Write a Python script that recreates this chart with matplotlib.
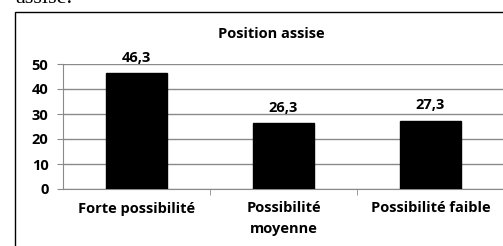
import matplotlib
matplotlib.use("Agg")
import matplotlib.pyplot as plt
from matplotlib.patches import Rectangle

categories = ["Forte possibilité", "Possibilité\nmoyenne", "Possibilité faible"]
values = [46.3, 26.3, 27.3]
value_labels = ["46,3", "26,3", "27,3"]
y_ticks = [0, 10, 20, 30, 40, 50]

plt.rcParams["font.family"] = ["Open Sans", "DejaVu Sans"]
GRID = "#8a8a8a"
FS = 10.5

fig = plt.figure(figsize=(5.03, 2.46), dpi=100)
W, H = 503, 246

# bout de texte du document coupé en haut
fig.text(15 / W, 1 - 3 / H, "assise.", family="Liberation Serif",
         fontsize=16, va="baseline", ha="left")

# cadre du graphique (dépasse à droite et en bas)
fig.patches.append(Rectangle((15 / W, -0.1), 1.0, 1 - 12 / H + 0.1,
                             transform=fig.transFigure, fill=False,
                             edgecolor="black", linewidth=1.0, clip_on=False))

ax = fig.add_axes([63 / W, 1 - 189 / H, 441 / W, 125 / H])
x = range(len(categories))
ax.bar(x, values, width=0.41, color="black", edgecolor="black", zorder=3)
for xi, v, lab in zip(x, values, value_labels):
    ax.annotate(lab, (xi, v), xytext=(0, 6), textcoords="offset points",
                ha="center", va="bottom", fontsize=FS, fontweight="bold")

ax.set_xlim(-0.5, 2.5)
ax.set_ylim(0, 50)
ax.set_yticks(y_ticks)
ax.set_yticklabels([str(t) for t in y_ticks], fontsize=FS, fontweight="bold")
ax.set_xticks(list(x))
ax.set_xticklabels(categories, fontsize=FS, fontweight="bold", linespacing=1.6)
ax.set_xticks([0.5, 1.5], minor=True)
ax.tick_params(axis="x", which="major", length=0, pad=9)
ax.tick_params(axis="x", which="minor", length=4, color=GRID, direction="out")
ax.tick_params(axis="y", length=4.5, color=GRID, pad=6)
ax.yaxis.grid(True, color=GRID, linewidth=1.0, zorder=0)
for s in ("top", "right"):
    ax.spines[s].set_visible(False)
ax.spines["left"].set_color(GRID)
ax.spines["bottom"].set_color(GRID)

fig.text(271 / W, 1 - 34 / H, "Position assise", ha="center", va="center",
         fontsize=FS, fontweight="bold")

fig.savefig("out.png", dpi=100)
